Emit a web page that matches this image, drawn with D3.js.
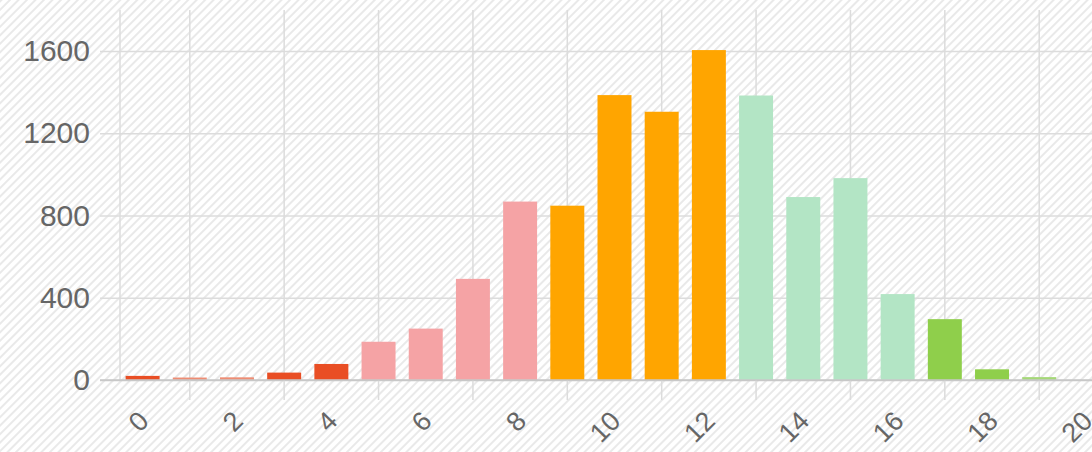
<!DOCTYPE html>
<html>
<head>
<meta charset="utf-8">
<script src="https://cdn.jsdelivr.net/npm/d3@7"></script>
<style>
  body { margin: 0; background: #fff; }
  svg { display: block; }
  text { font-family: "Liberation Sans", Arial, sans-serif; fill: #666; }
</style>
</head>
<body>
<script>
// categories on the x axis (0 .. 20), one bar for 0 .. 19
const categories = d3.range(0, 21).map(String);
const counts = [20, 12, 13, 36, 78, 186, 250, 492, 868, 848, 1386, 1305, 1605, 1384, 890, 982, 418, 296, 52, 14];
const barColors = [
  "#e94e24", "#ee8d74", "#ee8d74", "#e94e24", "#e94e24",
  "#f5a3a5", "#f5a3a5", "#f5a3a5", "#f5a3a5",
  "#ffa500", "#ffa500", "#ffa500", "#ffa500",
  "#b3e5c5", "#b3e5c5", "#b3e5c5", "#b3e5c5",
  "#8fcf4b", "#8fcf4b", "#a5d877"
];
const yTicks = [0, 400, 800, 1200, 1600];
const xLabels = categories.filter((d, i) => i % 2 === 0);
const xGrid = categories.filter((d, i) => i % 2 === 1 && i < counts.length);

const w = 1092, h = 452;
const plotLeft = 119, plotTop = 10, plotBottom = 380;

const svg = d3.select("body").append("svg")
  .attr("width", w)
  .attr("height", h);

// hatched background
const pat = svg.append("defs").append("pattern")
  .attr("id", "hatch")
  .attr("width", 6)
  .attr("height", 6)
  .attr("patternUnits", "userSpaceOnUse")
  .attr("patternTransform", "rotate(45)");
pat.append("rect").attr("width", 6).attr("height", 6).attr("fill", "#fff");
pat.append("line")
  .attr("x1", 1).attr("y1", 0).attr("x2", 1).attr("y2", 6)
  .attr("stroke", "#e9e9e9").attr("stroke-width", 2);
svg.append("rect").attr("width", w).attr("height", h).attr("fill", "url(#hatch)");

const x = d3.scaleBand()
  .domain(categories)
  .range([plotLeft, plotLeft + 21 * 47.19])
  .paddingInner(0.28)
  .paddingOuter(0.14);

const y = d3.scaleLinear()
  .domain([0, 1800])
  .range([plotBottom, plotTop]);

const cx = d => x(d) + x.bandwidth() / 2;

// horizontal grid + y labels
const yAxis = svg.append("g")
  .attr("transform", `translate(${plotLeft},0)`)
  .call(d3.axisLeft(y)
    .tickValues(yTicks)
    .tickFormat(d3.format("d"))
    .tickSize(-(w - plotLeft))
    .tickPadding(29));
yAxis.select(".domain").remove();
yAxis.selectAll(".tick line")
  .attr("x1", -19)
  .attr("stroke", d => d === 0 ? "#c8c8c8" : "#dcdcdc")
  .attr("stroke-width", 1.5);
yAxis.selectAll(".tick text")
  .attr("font-size", 30)
  .attr("fill", "#606060")
  .attr("font-family", "Liberation Sans, Arial, sans-serif");

// vertical grid lines
svg.append("line")
  .attr("x1", plotLeft + 1).attr("x2", plotLeft + 1)
  .attr("y1", plotTop).attr("y2", plotBottom)
  .attr("stroke", "#dcdcdc").attr("stroke-width", 1.5);
svg.append("g").selectAll("line")
  .data(xGrid)
  .join("line")
  .attr("x1", cx).attr("x2", cx)
  .attr("y1", plotTop).attr("y2", plotBottom + 20)
  .attr("stroke", "#dcdcdc")
  .attr("stroke-width", 1.5);

// bars
svg.append("g").selectAll("rect")
  .data(counts)
  .join("rect")
  .attr("x", (d, i) => x(categories[i]))
  .attr("width", x.bandwidth())
  .attr("y", d => y(d))
  .attr("height", d => y(0) - y(d))
  .attr("fill", (d, i) => barColors[i]);

// baseline on top of bars
svg.append("line")
  .attr("x1", plotLeft - 19).attr("x2", w)
  .attr("y1", y(0)).attr("y2", y(0))
  .attr("stroke", "#c8c8c8").attr("stroke-width", 1.5);

// x labels, rotated
svg.append("g").selectAll("text")
  .data(xLabels)
  .join("text")
  .attr("transform", d => `translate(${cx(d) + 1},${plotBottom + 36}) rotate(-45)`)
  .attr("text-anchor", "end")
  .attr("dy", "0.35em")
  .attr("font-size", 27)
  .attr("fill", "#606060")
  .text(d => d);
</script>
</body>
</html>
